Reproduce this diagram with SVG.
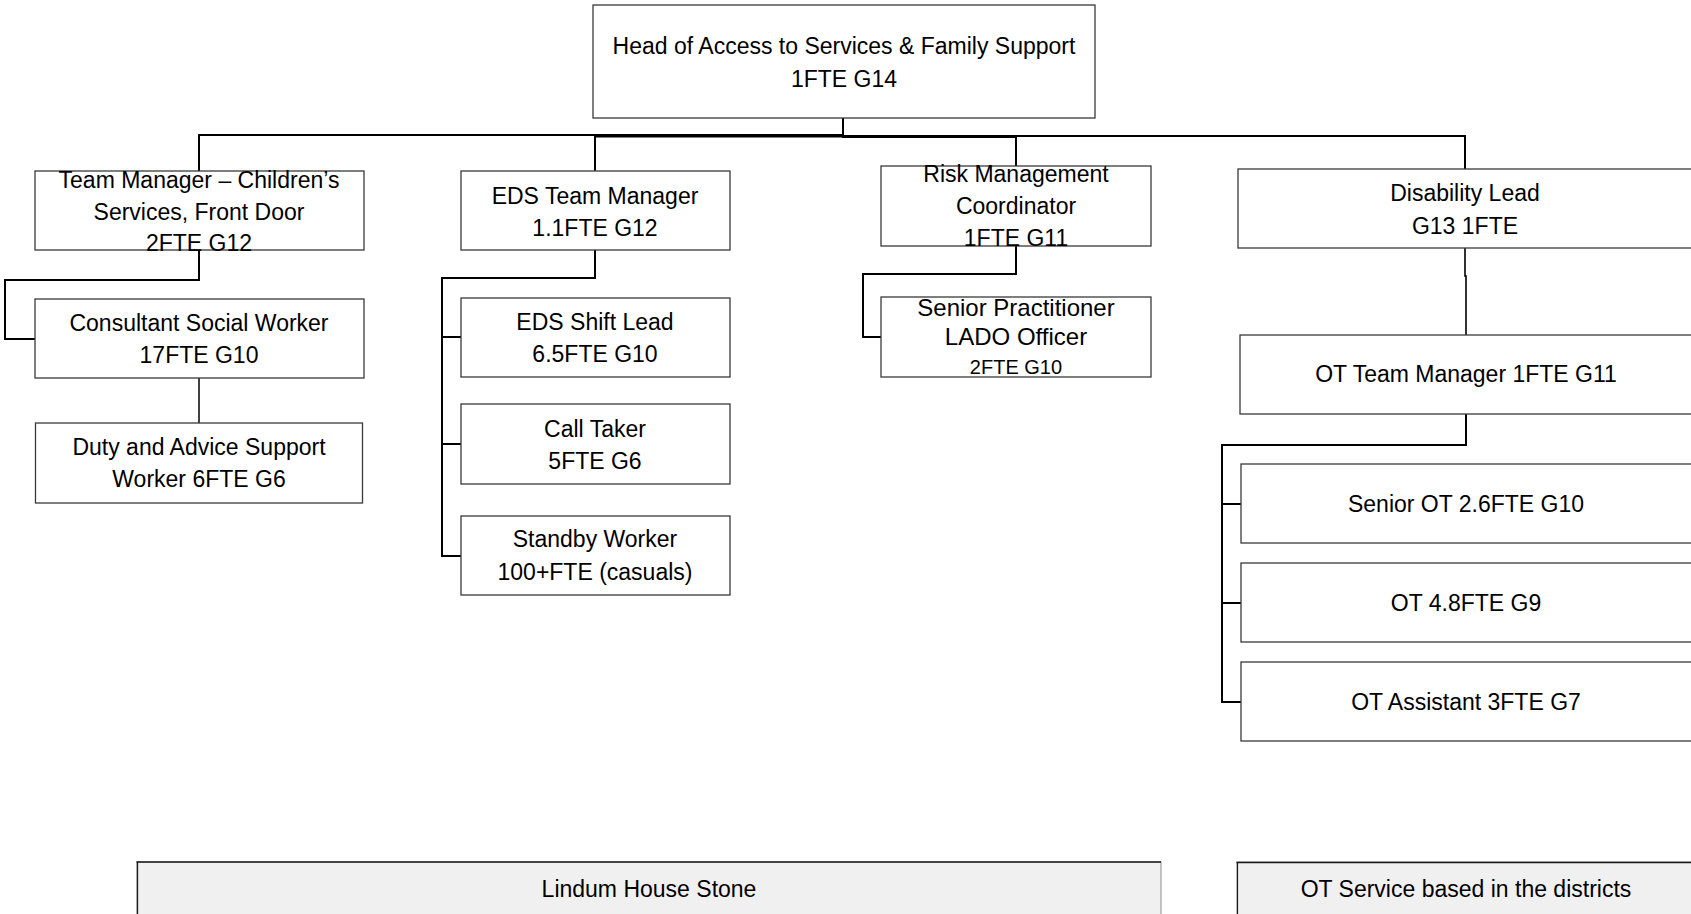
<svg xmlns="http://www.w3.org/2000/svg" width="1691" height="914" viewBox="0 0 1691 914">
<style>
.box{fill:#ffffff;stroke:#3a3a3a;stroke-width:1.3}
.t{font-family:"Liberation Sans",Arial,sans-serif;font-size:23px;fill:#000;text-anchor:middle}
.a{font-family:"Liberation Sans",Arial,sans-serif;font-size:24px;fill:#000;text-anchor:middle}
.s{font-family:"Liberation Sans",Arial,sans-serif;font-size:20px;fill:#000;text-anchor:middle}
.c{fill:none;stroke:#000;stroke-width:2}
.loc{fill:#f0f0f0;stroke:#a0a0a0;stroke-width:1.2}
</style>
<rect width="1691" height="914" fill="#ffffff"/>
<g id="connectors">
<polyline class="c" points="843,118 843,135 199,135 199,171"/>
<polyline class="c" points="843,118 843,136.5 595,136.5 595,171"/>
<polyline class="c" points="843,118 843,137 1016,137 1016,166"/>
<polyline class="c" points="843,118 843,136 1465,136 1465,169"/>
<polyline class="c" points="199,250 199,280 5,280 5,339 35,339"/>
<line class="c" x1="199" y1="378" x2="199" y2="423" style="stroke-width:1.5"/>
<polyline class="c" points="595,250 595,278 442,278 442,556 461,556"/>
<line class="c" x1="442" y1="337" x2="461" y2="337"/>
<line class="c" x1="442" y1="444" x2="461" y2="444"/>
<polyline class="c" points="1016,246 1016,274 863,274 863,337 881,337"/>
<polyline class="c" points="1465,248 1465,276 1466,276 1466,335" style="stroke-width:1.6"/>
<polyline class="c" points="1466,414 1466,445 1222,445 1222,702 1241,702"/>
<line class="c" x1="1222" y1="504" x2="1241" y2="504"/>
<line class="c" x1="1222" y1="603" x2="1241" y2="603"/>
</g>
<g id="head">
<rect class="box" x="593" y="5" width="502" height="113"/>
<text class="t" x="844" y="54">Head of Access to Services &amp; Family Support</text>
<text class="t" x="844" y="87">1FTE G14</text>
</g>
<g id="team-manager">
<rect class="box" x="35" y="171" width="329" height="79"/>
<text class="t" x="199" y="188">Team Manager – Children’s</text>
<text class="t" x="199" y="219.5">Services, Front Door</text>
<text class="t" x="199" y="251">2FTE G12</text>
</g>
<g id="eds-team-manager">
<rect class="box" x="461" y="171" width="269" height="79"/>
<text class="t" x="595" y="204">EDS Team Manager</text>
<text class="t" x="595" y="236">1.1FTE G12</text>
</g>
<g id="risk-management">
<rect class="box" x="881" y="166" width="270" height="80"/>
<text class="t" x="1016" y="182">Risk Management</text>
<text class="t" x="1016" y="214">Coordinator</text>
<text class="t" x="1016" y="246">1FTE G11</text>
</g>
<g id="disability-lead">
<rect class="box" x="1238" y="169" width="470" height="79"/>
<text class="t" x="1465" y="201">Disability Lead</text>
<text class="t" x="1465" y="233.5">G13 1FTE</text>
</g>
<g id="consultant-social-worker">
<rect class="box" x="35" y="299" width="329" height="79"/>
<text class="t" x="199" y="331">Consultant Social Worker</text>
<text class="t" x="199" y="363">17FTE G10</text>
</g>
<g id="duty-advice">
<rect class="box" x="35.5" y="423" width="327" height="80"/>
<text class="t" x="199" y="455">Duty and Advice Support</text>
<text class="t" x="199" y="487">Worker 6FTE G6</text>
</g>
<g id="eds-shift-lead">
<rect class="box" x="461" y="298" width="269" height="79"/>
<text class="t" x="595" y="330">EDS Shift Lead</text>
<text class="t" x="595" y="362">6.5FTE G10</text>
</g>
<g id="call-taker">
<rect class="box" x="461" y="404" width="269" height="80"/>
<text class="t" x="595" y="437">Call Taker</text>
<text class="t" x="595" y="469">5FTE G6</text>
</g>
<g id="standby-worker">
<rect class="box" x="461" y="516" width="269" height="79"/>
<text class="t" x="595" y="547">Standby Worker</text>
<text class="t" x="595" y="580">100+FTE (casuals)</text>
</g>
<g id="senior-practitioner">
<rect class="box" x="881" y="297" width="270" height="80"/>
<text class="a" x="1016" y="316">Senior Practitioner</text>
<text class="a" x="1016" y="345">LADO Officer</text>
<text class="s" x="1016" y="374">2FTE G10</text>
</g>
<g id="ot-team-manager">
<rect class="box" x="1240" y="335" width="470" height="79"/>
<text class="t" x="1466" y="382">OT Team Manager 1FTE G11</text>
</g>
<g id="senior-ot">
<rect class="box" x="1241" y="464" width="470" height="79"/>
<text class="t" x="1466" y="512">Senior OT 2.6FTE G10</text>
</g>
<g id="ot">
<rect class="box" x="1241" y="563" width="470" height="79"/>
<text class="t" x="1466" y="611">OT 4.8FTE G9</text>
</g>
<g id="ot-assistant">
<rect class="box" x="1241" y="662" width="470" height="79"/>
<text class="t" x="1466" y="710">OT Assistant 3FTE G7</text>
</g>
<g id="lindum-house">
<rect class="loc" x="137" y="862" width="1024" height="70"/>
<line x1="136.5" y1="862" x2="1161" y2="862" stroke="#1a1a1a" stroke-width="1.6"/>
<line x1="137.5" y1="862" x2="137.5" y2="914" stroke="#1a1a1a" stroke-width="1.3"/>
<text class="t" x="649" y="897">Lindum House Stone</text>
</g>
<g id="ot-service">
<rect class="loc" x="1237" y="862" width="470" height="70"/>
<line x1="1236.5" y1="862.5" x2="1691" y2="862.5" stroke="#1a1a1a" stroke-width="1.4"/>
<line x1="1237.5" y1="862" x2="1237.5" y2="914" stroke="#1a1a1a" stroke-width="1.2"/>
<text class="t" x="1466" y="897">OT Service based in the districts</text>
</g>
</svg>
